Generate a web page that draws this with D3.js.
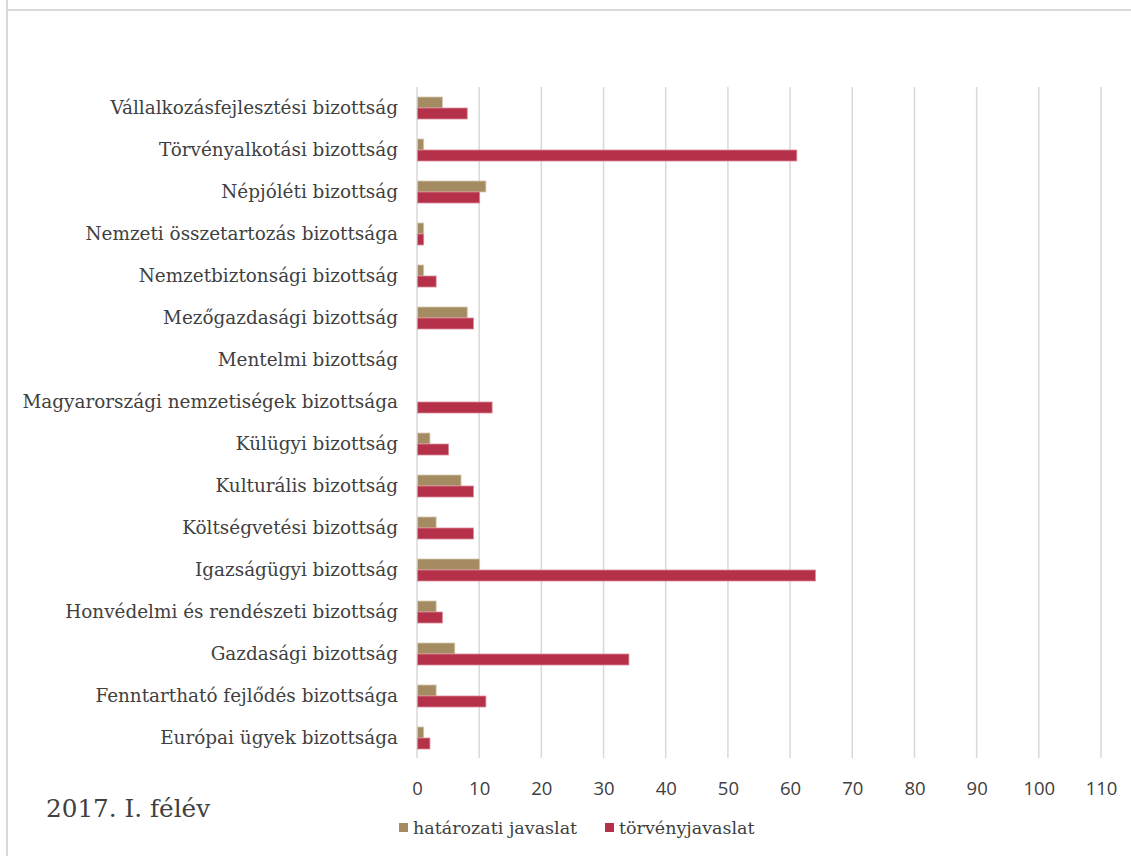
<!DOCTYPE html>
<html><head><meta charset="utf-8">
<script src="https://cdn.jsdelivr.net/npm/d3@7/dist/d3.min.js"></script>
<style>
html,body{margin:0;padding:0;background:#fff;}
svg{display:block;}
</style></head>
<body>
<script>
const categories = [
  "Vállalkozásfejlesztési bizottság",
  "Törvényalkotási bizottság",
  "Népjóléti bizottság",
  "Nemzeti összetartozás bizottsága",
  "Nemzetbiztonsági bizottság",
  "Mezőgazdasági bizottság",
  "Mentelmi bizottság",
  "Magyarországi nemzetiségek bizottsága",
  "Külügyi bizottság",
  "Kulturális bizottság",
  "Költségvetési bizottság",
  "Igazságügyi bizottság",
  "Honvédelmi és rendészeti bizottság",
  "Gazdasági bizottság",
  "Fenntartható fejlődés bizottsága",
  "Európai ügyek bizottsága"
];
const seriesNames = ["határozati javaslat", "törvényjavaslat"];
const hatarozati = [4, 1, 11, 1, 1, 8, 0, 0, 2, 7, 3, 10, 3, 6, 3, 1];
const torveny   = [8, 61, 10, 1, 3, 9, 0, 12, 5, 9, 9, 64, 4, 34, 11, 2];
const tickValues = [0, 10, 20, 30, 40, 50, 60, 70, 80, 90, 100, 110];
const title = "2017. I. félév";

const colors = ["#A58B62", "#B5314A"];
const strokes = ["#d6c8b0", "#dc8c9a"];
const serif = "Georgia, 'DejaVu Serif', serif";
const sans = "'Open Sans', 'Noto Sans', sans-serif";
const textColor = "#404040";

const W = 1131, H = 856;
const svg = d3.select("body").append("svg").attr("width", W).attr("height", H);

// frame lines
svg.append("line").attr("x1", 7).attr("x2", W).attr("y1", 10).attr("y2", 10)
  .attr("stroke", "#d9d9d9").attr("stroke-width", 2);
svg.append("line").attr("x1", 7).attr("x2", 7).attr("y1", 0).attr("y2", H)
  .attr("stroke", "#d9d9d9").attr("stroke-width", 2);

const x = d3.scaleLinear().domain([0, 110]).range([417, 1101]);
const y = d3.scaleBand().domain(categories).range([87, 759]).paddingInner(0.476).paddingOuter(0.238);
const ySub = d3.scaleBand().domain(seriesNames).range([0, y.bandwidth()]);

// gridlines
svg.append("g").selectAll("line").data(tickValues).join("line")
  .attr("x1", d => x(d)).attr("x2", d => x(d))
  .attr("y1", 87).attr("y2", 758)
  .attr("stroke", "#d9d9d9").attr("stroke-width", 1.5);

// x axis tick labels
const xAxis = d3.axisBottom(x).tickValues(tickValues).tickSize(0).tickPadding(0);
const gx = svg.append("g").attr("transform", "translate(0,782)").call(xAxis);
gx.select(".domain").remove();
gx.selectAll("text").attr("font-family", sans).attr("font-size", 18.5)
  .attr("fill", textColor).attr("dy", "0.71em");

// category labels
svg.append("g").selectAll("text").data(categories).join("text")
  .attr("x", 398).attr("y", d => y(d) + y.bandwidth() / 2)
  .attr("dy", "0.35em").attr("text-anchor", "end")
  .attr("font-family", serif).attr("font-size", 18.4).attr("fill", textColor)
  .text(d => d);

// bars
const series = [hatarozati, torveny];
series.forEach((vals, si) => {
  svg.append("g").selectAll("rect").data(categories).join("rect")
    .attr("x", x(0) + 0.5)
    .attr("y", d => y(d) + ySub(seriesNames[si]))
    .attr("width", (d, i) => Math.max(0, x(vals[i]) - x(0)))
    .attr("height", ySub.bandwidth())
    .attr("fill", colors[si])
    .attr("stroke", (d, i) => vals[i] > 0 ? strokes[si] : "none")
    .attr("stroke-width", 0.8);
});

// title
svg.append("text").attr("x", 46).attr("y", 817)
  .attr("font-family", serif).attr("font-size", 24.7).attr("fill", textColor)
  .text(title);

// legend
const legX = [399, 605];
seriesNames.forEach((s, i) => {
  svg.append("rect").attr("x", legX[i]).attr("y", 823).attr("width", 9).attr("height", 9)
    .attr("fill", colors[i]);
  svg.append("text").attr("x", legX[i] + 14).attr("y", 834)
    .attr("font-family", serif).attr("font-size", 17.5).attr("fill", textColor).text(s);
});
</script>
</body></html>
